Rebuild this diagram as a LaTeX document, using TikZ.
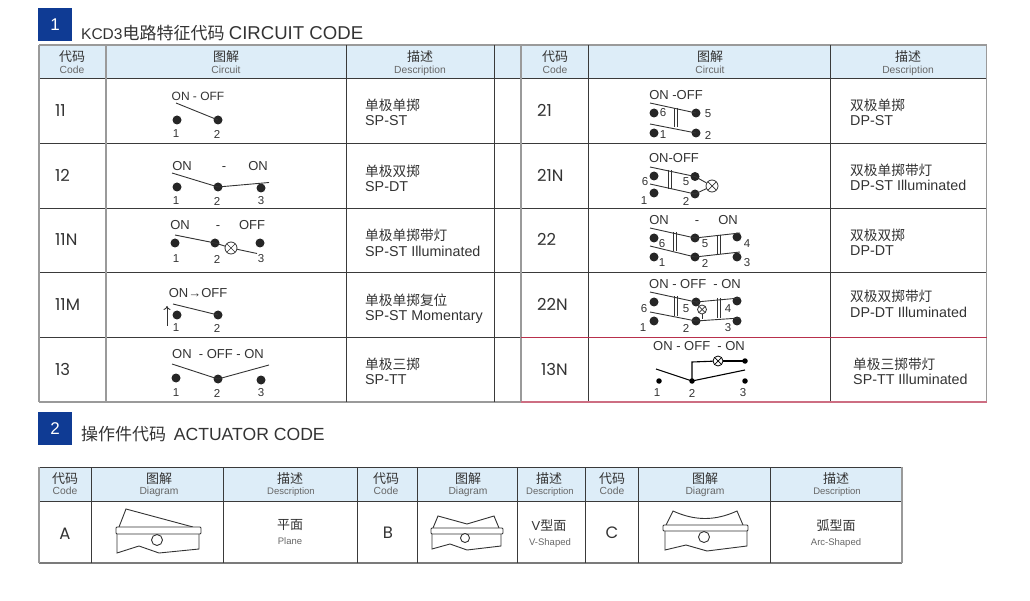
\documentclass[tikz,border=0pt]{standalone}
\usepackage{fontspec}
\usepackage{xcolor}
\usepackage{tikz}
\usetikzlibrary{arrows.meta}
\setmainfont{Liberation Sans}
\newfontfamily\cjkfont{Noto Sans CJK SC}
\newfontfamily\codefont{Poppins}
\definecolor{headblue}{HTML}{DDEDF8}
\definecolor{squareblue}{HTML}{0F3B94}
\definecolor{inkgray}{HTML}{333333}
\definecolor{subgray}{HTML}{666666}
\definecolor{rulegray}{HTML}{9A9A9A}
\definecolor{ruledark}{HTML}{3A3A3A}
\definecolor{rulered}{HTML}{B8304C}
\tikzset{
  square/.style={fill=squareblue, text=white, minimum width=34pt, minimum height=33pt, inner sep=0pt, font=\fontsize{17}{17}\selectfont},
  titletxt/.style={anchor=base west, inner sep=0pt, text=inkgray},
  cjkhead/.style={inner sep=0pt, text=inkgray, font=\cjkfont\fontsize{13}{13}\selectfont},
  enghead/.style={inner sep=0pt, text=subgray, text height=7.4pt, text depth=0pt, font=\fontsize{10.3}{10}\selectfont},
  smallhead/.style={enghead, font=\fontsize{9.5}{10}\selectfont},
  codetxt/.style={anchor=west, inner sep=0pt, text=inkgray, text height=12pt, text depth=0pt, font=\codefont\fontsize{16.5}{18}\selectfont},
  cjkdesc/.style={anchor=west, inner sep=0pt, text=inkgray, font=\cjkfont\fontsize{13.7}{14}\selectfont},
  engdesc/.style={anchor=west, inner sep=0pt, text=inkgray, text height=10.2pt, text depth=0pt, font=\fontsize{14.3}{14}\selectfont},
  onoff/.style={inner sep=0pt, text=inkgray, text height=9.4pt, text depth=0pt, font=\fontsize{13}{13}\selectfont},
  pinnum/.style={inner sep=0pt, text=inkgray, font=\fontsize{11.5}{11}\selectfont},
  contact/.style={circle, fill=black!85, inner sep=0pt, minimum size=9pt},
  smallcontact/.style={circle, fill=black, inner sep=0pt, minimum size=5.5pt},
  lamp/.style={circle, draw=inkgray, fill=white, inner sep=0pt, minimum size=12pt, line width=0.8pt, path picture={
    \draw[line width=0.7pt] (path picture bounding box.north west) -- (path picture bounding box.south east);
    \draw[line width=0.7pt] (path picture bounding box.north east) -- (path picture bounding box.south west);}},
  arm/.style={draw=inkgray, line width=0.9pt},
  tie/.style={draw=inkgray, line width=0.7pt},
  shell/.style={draw=inkgray, line width=0.9pt, fill=white},
}
\begin{document}
\begin{tikzpicture}[x=1pt, y=-1pt]
\useasboundingbox (0,0) rectangle (1030,601);

% Section squares and titles
\node[square] (sq1) at (55,24.5) {1};
\node[square] (sq2) at (55,428.5) {2};
\node[titletxt, font=\fontsize{15.5}{16}\selectfont] (title1) at (81,40) {KCD3{\cjkfont\fontsize{17}{17}\selectfont 电路特征代码} \fontsize{18.6}{18}\selectfont CIRCUIT CODE};
\node[titletxt, font=\cjkfont\fontsize{17}{17}\selectfont] (title2) at (81,440) {操作件代码\ \ {\setmainfont{Liberation Sans}\normalfont\fontsize{17.6}{18}\selectfont ACTUATOR CODE}};

% Circuit table: header and grid
\fill[headblue] (39,45) rectangle (987,79);
\draw[ruledark, line width=1pt] (39,79) -- (987,79);
\draw[ruledark, line width=1pt] (39,144) -- (521,144);
\draw[ruledark, line width=1pt] (521,143.5) -- (987,143.5);
\draw[ruledark, line width=1pt] (39,208.5) -- (987,208.5);
\draw[ruledark, line width=1pt] (39,273) -- (987,273);
\draw[ruledark, line width=1pt] (39,338) -- (521,338);
\draw[rulegray, line width=1.3pt] (39,45) -- (987,45);
\draw[rulegray, line width=1.3pt] (39,402) -- (521,402);
\draw[rulegray, line width=1.3pt] (39,45) -- (39,402);
\draw[rulegray, line width=1.3pt] (106,45) -- (106,402);
\draw[ruledark, line width=0.9pt] (346,45) -- (346,402);
\draw[ruledark, line width=0.9pt] (494.5,45) -- (494.5,402);
\draw[rulegray, line width=1.3pt] (521,45) -- (521,402);
\draw[ruledark, line width=0.9pt] (588,45) -- (588,402);
\draw[ruledark, line width=0.9pt] (830,45) -- (830,402);
\draw[rulegray, line width=1.3pt] (986.5,45) -- (986.5,402);
\draw[rulered, line width=1pt] (521,338) -- (987,338);
\draw[rulered!70, line width=1.3pt] (521,402) -- (987,402);

% Circuit table: header texts
\node[cjkhead] (h1a) at (72,57) {代码};
\node[enghead] (h1b) at (72,70) {Code};
\node[cjkhead] (h2a) at (226,57) {图解};
\node[enghead] (h2b) at (226,70) {Circuit};
\node[cjkhead] (h3a) at (420,57) {描述};
\node[enghead] (h3b) at (420,70) {Description};
\node[cjkhead] (h4a) at (555,57) {代码};
\node[enghead] (h4b) at (555,70) {Code};
\node[cjkhead] (h5a) at (710,57) {图解};
\node[enghead] (h5b) at (710,70) {Circuit};
\node[cjkhead] (h6a) at (908,57) {描述};
\node[enghead] (h6b) at (908,70) {Description};

% Codes
\node[codetxt] (c11) at (55,111) {11};
\node[codetxt] (c12) at (55,175.5) {12};
\node[codetxt] (c11n) at (55,240) {11N};
\node[codetxt] (c11m) at (55,305) {11M};
\node[codetxt] (c13) at (55,369) {13};
\node[codetxt] (c21) at (537,111) {21};
\node[codetxt] (c21n) at (537,176) {21N};
\node[codetxt] (c22) at (537,240) {22};
\node[codetxt] (c22n) at (537,305) {22N};
\node[codetxt] (c13n) at (541,369) {13N};

% Descriptions
\node[cjkdesc] (d11a) at (365,105) {单极单掷};
\node[engdesc] (d11b) at (365,120) {SP-ST};
\node[cjkdesc] (d12a) at (365,171) {单极双掷};
\node[engdesc] (d12b) at (365,186) {SP-DT};
\node[cjkdesc] (d11na) at (365,235) {单极单掷带灯};
\node[engdesc] (d11nb) at (365,251) {SP-ST Illuminated};
\node[cjkdesc] (d11ma) at (365,300) {单极单掷复位};
\node[engdesc] (d11mb) at (365,315) {SP-ST Momentary};
\node[cjkdesc] (d13a) at (365,364) {单极三掷};
\node[engdesc] (d13b) at (365,379) {SP-TT};
\node[cjkdesc] (d21a) at (850,105) {双极单掷};
\node[engdesc] (d21b) at (850,120) {DP-ST};
\node[cjkdesc] (d21na) at (850,170) {双极单掷带灯};
\node[engdesc] (d21nb) at (850,185) {DP-ST Illuminated};
\node[cjkdesc] (d22a) at (850,235) {双极双掷};
\node[engdesc] (d22b) at (850,250) {DP-DT};
\node[cjkdesc] (d22na) at (850,296) {双极双掷带灯};
\node[engdesc] (d22nb) at (850,312) {DP-DT Illuminated};
\node[cjkdesc] (d13na) at (853,364) {单极三掷带灯};
\node[engdesc] (d13nb) at (853,379) {SP-TT Illuminated};

% Circuit 11
\node[onoff, font=\fontsize{12}{13}\selectfont] (l11) at (198,95.5) {ON - OFF};
\node[contact] (p11a) at (177,120) {};
\node[contact] (p11b) at (218,120) {};
\node[pinnum] (n11a) at (176,134) {1};
\node[pinnum] (n11b) at (217,134) {2};
\coordinate (e11) at (176,103);
\draw[arm] (e11) -- (p11b.center);

% Circuit 12
\node[onoff] (l12a) at (182,166) {ON};
\node[onoff] (l12b) at (224,166) {-};
\node[onoff] (l12c) at (258,166) {ON};
\node[contact] (p12a) at (177,187) {};
\node[contact] (p12b) at (218,187) {};
\node[contact] (p12c) at (261,188) {};
\node[pinnum] (n12a) at (176,201) {1};
\node[pinnum] (n12b) at (217,201) {2};
\node[pinnum] (n12c) at (261,201) {3};
\coordinate (e12a) at (172,173);
\coordinate (e12b) at (269,182.5);
\draw[arm] (e12a) -- (p12b.center) -- (e12b);

% Circuit 11N
\node[onoff] (l11na) at (180,225) {ON};
\node[onoff] (l11nb) at (218,225) {-};
\node[onoff] (l11nc) at (252,225) {OFF};
\node[contact] (p11na) at (175,243) {};
\node[contact] (p11nb) at (215,243) {};
\node[contact] (p11nc) at (260,243) {};
\node[pinnum] (n11na) at (176,259) {1};
\node[pinnum] (n11nb) at (217,259) {2};
\node[pinnum] (n11nc) at (261,259) {3};
\coordinate (e11na) at (175,235);
\coordinate (e11nb) at (257,253.5);
\node[lamp] (lp11n) at (231,248) {};
\draw[arm] (e11na) -- (p11nb.center) -- (lp11n);
\draw[arm] (lp11n) -- (e11nb);

% Circuit 11M
\node[onoff] (l11m) at (198,293) {ON→OFF};
\node[contact] (p11ma) at (177,315) {};
\node[contact] (p11mb) at (218,315) {};
\node[pinnum] (n11ma) at (176,328) {1};
\node[pinnum] (n11mb) at (217,328) {2};
\coordinate (e11m) at (173,304);
\draw[arm] (e11m) -- (p11mb.center);
\coordinate (up1) at (167,326);
\coordinate (up2) at (167,306);
\draw[-{To[length=4pt,width=7pt]}, arm] (up1) -- (up2);

% Circuit 13
\node[onoff] (l13) at (218,354) {ON\ \ - OFF - ON};
\node[contact] (p13a) at (176,378) {};
\node[contact] (p13b) at (218,379) {};
\node[contact] (p13c) at (261,380) {};
\node[pinnum] (n13a) at (176,393) {1};
\node[pinnum] (n13b) at (217,393) {2};
\node[pinnum] (n13c) at (261,393) {3};
\coordinate (e13a) at (172,364);
\coordinate (e13b) at (269,365);
\draw[arm] (e13a) -- (p13b.center) -- (e13b);

% Circuit 21
\node[onoff] (l21) at (676,95) {ON -OFF};
\node[contact] (p21f) at (654,113) {};
\node[contact] (p21e) at (696,113) {};
\node[contact] (p21a) at (654,133) {};
\node[contact] (p21b) at (696,133) {};
\node[pinnum] (n21f) at (663,113) {6};
\node[pinnum] (n21e) at (708,114) {5};
\node[pinnum] (n21a) at (663,135) {1};
\node[pinnum] (n21b) at (708,135) {2};
\coordinate (e21a) at (650,103);
\coordinate (e21b) at (650,124);
\draw[arm] (e21a) -- (p21e.center);
\draw[arm] (e21b) -- (p21b.center);
\draw[tie] (674,108) -- (674,127);
\draw[tie] (677,108) -- (677,127);

% Circuit 21N
\node[onoff] (l21n) at (674,158) {ON-OFF};
\node[contact] (p21nf) at (654,176) {};
\node[contact] (p21ne) at (695,176.5) {};
\node[contact] (p21na) at (654,193) {};
\node[contact] (p21nb) at (695,194) {};
\node[pinnum] (n21nf) at (645,182) {6};
\node[pinnum] (n21ne) at (686,182) {5};
\node[pinnum] (n21na) at (644,201) {1};
\node[pinnum] (n21nb) at (686,201) {2};
\coordinate (e21na) at (650,167);
\coordinate (e21nb) at (650,184);
\draw[arm] (e21na) -- (p21ne.center);
\draw[arm] (e21nb) -- (p21nb.center);
\draw[tie] (668,170) -- (668,189);
\draw[tie] (671,170) -- (671,189);
\node[lamp] (lp21n) at (712,186) {};
\draw[arm] (p21ne.center) -- (lp21n);
\draw[arm] (p21nb.center) -- (lp21n);

% Circuit 22
\node[onoff] (l22a) at (659,220) {ON};
\node[onoff] (l22b) at (697,220) {-};
\node[onoff] (l22c) at (728,220) {ON};
\node[contact] (p22f) at (654,238) {};
\node[contact] (p22e) at (695,238) {};
\node[contact] (p22d) at (737,237) {};
\node[contact] (p22a) at (654,257) {};
\node[contact] (p22b) at (695,257) {};
\node[contact] (p22c) at (737,257) {};
\node[pinnum] (n22f) at (662,244) {6};
\node[pinnum] (n22e) at (705,244) {5};
\node[pinnum] (n22d) at (747,244) {4};
\node[pinnum] (n22a) at (662,263) {1};
\node[pinnum] (n22b) at (705,263) {2};
\node[pinnum] (n22c) at (747,263) {3};
\coordinate (e22a) at (650,228);
\coordinate (e22b) at (740,233);
\coordinate (e22c) at (650,246);
\coordinate (e22d) at (740,252);
\draw[arm] (e22a) -- (p22e.center) -- (e22b);
\draw[arm] (e22c) -- (p22b.center) -- (e22d);
\draw[tie] (673,232) -- (673,251);
\draw[tie] (676,232) -- (676,251);
\draw[tie] (717,235) -- (717,254);
\draw[tie] (720,235) -- (720,254);

% Circuit 22N
\node[onoff] (l22n) at (695,284) {ON - OFF\ \ - ON};
\node[contact] (p22nf) at (654,302) {};
\node[contact] (p22ne) at (696,302) {};
\node[contact] (p22nd) at (737,301) {};
\node[contact] (p22na) at (654,321) {};
\node[contact] (p22nb) at (696,321) {};
\node[contact] (p22nc) at (737,321) {};
\node[pinnum] (n22nf) at (644,309) {6};
\node[pinnum] (n22ne) at (686,309) {5};
\node[pinnum] (n22nd) at (728,309) {4};
\node[pinnum] (n22na) at (643,328) {1};
\node[pinnum] (n22nb) at (686,328) {2};
\node[pinnum] (n22nc) at (728,328) {3};
\coordinate (e22na) at (650,292);
\coordinate (e22nb) at (740,298);
\coordinate (e22nc) at (650,312);
\coordinate (e22nd) at (740,318);
\draw[arm] (e22na) -- (p22ne.center) -- (e22nb);
\draw[arm] (e22nc) -- (p22nb.center) -- (e22nd);
\draw[tie] (674,296) -- (674,316);
\draw[tie] (677,296) -- (677,316);
\draw[tie] (717,298) -- (717,318);
\draw[tie] (720,298) -- (720,318);
\node[lamp, minimum size=9pt] (lp22n) at (702,309.5) {};
\coordinate (w22n) at (702,319);
\draw[tie] (lp22n) -- (w22n);
\draw[tie] (p22ne.center) -- (lp22n);

% Circuit 13N
\node[onoff] (l13n) at (699,346) {ON - OFF\ \ - ON};
\node[smallcontact] (p13na) at (659,381) {};
\node[smallcontact] (p13nb) at (692,381) {};
\node[smallcontact] (p13nc) at (745,381) {};
\node[smallcontact] (p13nd) at (745,361) {};
\node[pinnum] (n13na) at (657,393) {1};
\node[pinnum] (n13nb) at (692,393) {2};
\node[pinnum] (n13nc) at (743,393) {3};
\coordinate (e13na) at (656,369);
\coordinate (e13nb) at (745,370);
\coordinate (k13n) at (692,362);
\node[lamp, minimum size=10pt, draw=black] (lp13n) at (718,361) {};
\draw[draw=black, line width=1.1pt] (e13na) -- (p13nb.center) -- (e13nb);
\draw[draw=black, line width=1.1pt] (p13nb.center) -- (k13n) -- (lp13n);
\draw[draw=black, line width=1.1pt] (lp13n) -- (p13nd.center);

% Actuator table: header and grid
\fill[headblue] (39,467) rectangle (902,501);
\draw[ruledark, line width=1pt] (39,467) -- (902,467);
\draw[ruledark, line width=1pt] (39,501) -- (902,501);
\draw[rulegray!80!black, line width=1.2pt] (39,563) -- (902,563);
\draw[rulegray, line width=1.2pt] (39,467) -- (39,563);
\draw[ruledark, line width=0.9pt] (91.5,467) -- (91.5,563);
\draw[ruledark, line width=0.9pt] (223,467) -- (223,563);
\draw[ruledark, line width=0.9pt] (357,467) -- (357,563);
\draw[ruledark, line width=0.9pt] (417.5,467) -- (417.5,563);
\draw[ruledark, line width=0.9pt] (517,467) -- (517,563);
\draw[ruledark, line width=0.9pt] (585,467) -- (585,563);
\draw[ruledark, line width=0.9pt] (638.5,467) -- (638.5,563);
\draw[ruledark, line width=0.9pt] (770.5,467) -- (770.5,563);
\draw[rulegray, line width=1.2pt] (902,467) -- (902,563);

% Actuator table: header texts
\node[cjkhead] (a1a) at (65,479) {代码};
\node[enghead] (a1b) at (65,491) {Code};
\node[cjkhead] (a2a) at (159,479) {图解};
\node[enghead] (a2b) at (159,491) {Diagram};
\node[cjkhead] (a3a) at (290,479) {描述};
\node[smallhead] (a3b) at (291,491) {Description};
\node[cjkhead] (a4a) at (386,479) {代码};
\node[enghead] (a4b) at (386,490.5) {Code};
\node[cjkhead] (a5a) at (468,479) {图解};
\node[enghead] (a5b) at (468,491) {Diagram};
\node[cjkhead] (a6a) at (549,479) {描述};
\node[smallhead] (a6b) at (550,491) {Description};
\node[cjkhead] (a7a) at (612,479) {代码};
\node[enghead] (a7b) at (612,490.5) {Code};
\node[cjkhead] (a8a) at (705,479) {图解};
\node[enghead] (a8b) at (705,490.5) {Diagram};
\node[cjkhead] (a9a) at (836,479) {描述};
\node[smallhead] (a9b) at (837,490.5) {Description};

% Actuator codes and names
\node[codetxt, anchor=center] (ca) at (65,533) {A};
\node[codetxt, anchor=center] (cb) at (388,532) {B};
\node[codetxt, anchor=center] (cc) at (612,532) {C};
\node[cjkhead] (na1) at (290,525) {平面};
\node[smallhead] (na2) at (290,541) {Plane};
\node[inner sep=0pt, text=inkgray, font=\fontsize{13}{13}\selectfont] (nb1) at (549,526) {V{\cjkfont 型面}};
\node[smallhead] (nb2) at (550,541.5) {V-Shaped};
\node[cjkhead] (nc1) at (836,526) {弧型面};
\node[smallhead] (nc2) at (836,541.5) {Arc-Shaped};

% Actuator A
\draw[shell] (119,527) -- (126,509) -- (193,527);
\draw[shell] (117,534) -- (117,553) -- (139,546) -- (159,553) -- (199,549) -- (199,534);
\draw[shell, rounded corners=1pt] (116,527) rectangle (201,534);
\draw[shell] (157,540) circle (5.5);

% Actuator B
\draw[shell] (433,528) -- (438,516) -- (467,524) -- (494,516) -- (499,528);
\draw[shell] (432,534) -- (432,549) -- (450,544) -- (467,550) -- (501,546) -- (501,534);
\draw[shell, rounded corners=1pt] (431,528) rectangle (503,534);
\draw[shell] (465,538) circle (4.5);

% Actuator C
\draw[shell] (666,525) -- (673,511) .. controls (695,521) and (715,521) .. (737,511) -- (743,525);
\draw[shell] (665,531) -- (665,550) -- (686,545) -- (707,551) -- (747,546) -- (747,531);
\draw[shell, rounded corners=1pt] (663,525) rectangle (748,531);
\draw[shell] (704,537) circle (5.5);
\end{tikzpicture}
\end{document}
